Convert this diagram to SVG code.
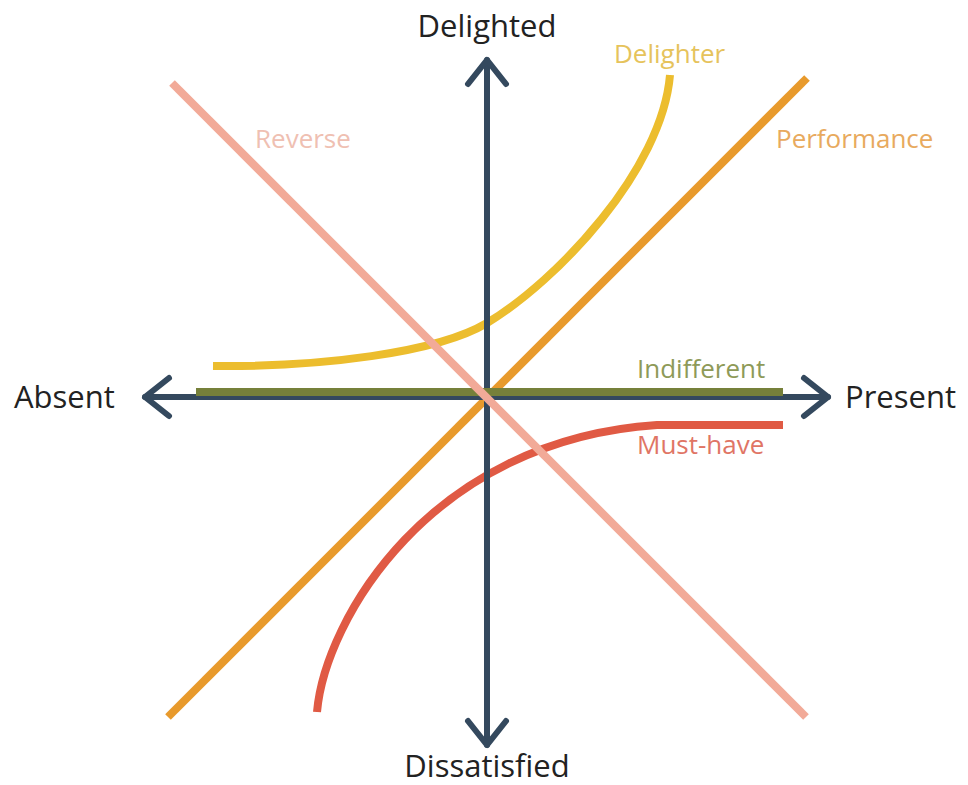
<svg xmlns="http://www.w3.org/2000/svg" width="968" height="785" viewBox="0 0 968 785">
  <style>
    .axis { stroke: #34495e; stroke-width: 6; stroke-linecap: round; fill: none; }
    .curve { fill: none; stroke-width: 8; stroke-linecap: butt; }
    .pole { font-family: "Open Sans", "Noto Sans", "Liberation Sans", sans-serif; font-size: 31px; fill: #222222; }
    .tag { font-family: "Open Sans", "Noto Sans", "Liberation Sans", sans-serif; font-size: 26px; }
  </style>
  <defs>
    <marker id="chevron" markerUnits="userSpaceOnUse" viewBox="-30 -25 36 50" refX="0" refY="0" markerWidth="36" markerHeight="50" orient="auto-start-reverse" overflow="visible">
      <path d="M-24,-19 L0,0 L-24,19" fill="none" stroke="#34495e" stroke-width="6" stroke-linecap="round" stroke-linejoin="round"/>
    </marker>
  </defs>
  <rect width="968" height="785" fill="#ffffff"/>

  <!-- attribute curves drawn under the axes -->
  <g id="delighter">
    <path class="curve" stroke="#ecbd2e" d="M213,366 C320,367 437,353 487,323 C557,281 662,170 670,75"/>
  </g>
  <g id="must-have">
    <path class="curve" stroke="#e05a44" d="M317,712 C325,620 430,440 657,425 L783,425"/>
  </g>
  <g id="performance">
    <line class="curve" stroke="#e89a2c" stroke-width="7.5" x1="168" y1="717" x2="807" y2="78"/>
  </g>

  <!-- the two axes with open chevron heads -->
  <g id="connectors">
    <line class="axis" x1="145" y1="397" x2="828" y2="397" marker-start="url(#chevron)" marker-end="url(#chevron)"/>
    <line class="axis" x1="487" y1="745" x2="487" y2="60" marker-start="url(#chevron)" marker-end="url(#chevron)"/>
  </g>

  <g id="indifferent">
    <line class="curve" stroke="#76803a" x1="196" y1="392" x2="783" y2="392"/>
  </g>
  <g id="reverse">
    <line class="curve" stroke="#f2aa98" stroke-width="7.5" x1="172" y1="83" x2="806" y2="717"/>
  </g>

  <!-- axis pole labels -->
  <g id="pole-labels">
    <text class="pole" x="487" y="37" text-anchor="middle">Delighted</text>
    <text class="pole" x="487" y="777" text-anchor="middle">Dissatisfied</text>
    <text class="pole" x="14" y="408">Absent</text>
    <text class="pole" x="845" y="408">Present</text>
  </g>

  <!-- curve names -->
  <g id="curve-labels">
    <text class="tag" x="614" y="63" fill="#e6c35c">Delighter</text>
    <text class="tag" x="776" y="148" fill="#e8aa5e">Performance</text>
    <text class="tag" x="255" y="148" fill="#efc0b2">Reverse</text>
    <text class="tag" x="637" y="378" fill="#8e9a58">Indifferent</text>
    <text class="tag" x="637" y="454" fill="#e07565">Must-have</text>
  </g>
</svg>
